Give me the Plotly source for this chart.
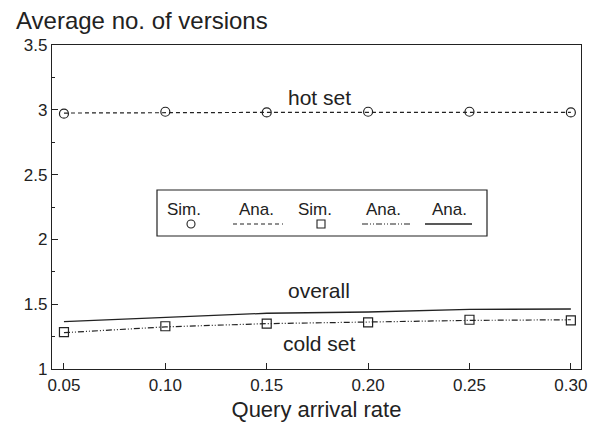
import plotly.graph_objects as go

rate = [0.05, 0.10, 0.15, 0.20, 0.25, 0.30]
hot_sim = [2.97, 2.985, 2.98, 2.985, 2.985, 2.98]
hot_ana = [2.975, 2.98, 2.98, 2.98, 2.98, 2.98]
cold_sim = [1.285, 1.33, 1.35, 1.36, 1.38, 1.375]
cold_ana = [1.28, 1.325, 1.35, 1.365, 1.375, 1.38]
overall_ana = [1.365, 1.40, 1.43, 1.44, 1.46, 1.463]

x_ticks = [0.05, 0.10, 0.15, 0.20, 0.25, 0.30]
x_ticktext = ["0.05", "0.10", "0.15", "0.20", "0.25", "0.30"]
y_ticks = [1, 1.5, 2, 2.5, 3, 3.5]
y_ticktext = ["1", "1.5", "2", "2.5", "3", "3.5"]

FONT = "Liberation Sans, Arial, sans-serif"
INK = "#222222"

fig = go.Figure()
fig.add_trace(go.Scatter(x=rate, y=hot_ana, mode="lines",
                         line=dict(color=INK, width=1.2, dash="4px,3px")))
fig.add_trace(go.Scatter(x=rate, y=hot_sim, mode="markers",
                         marker=dict(symbol="circle-open", size=9, color=INK, line=dict(width=1.2))))
fig.add_trace(go.Scatter(x=rate, y=overall_ana, mode="lines",
                         line=dict(color=INK, width=1.3)))
fig.add_trace(go.Scatter(x=rate, y=cold_ana, mode="lines",
                         line=dict(color=INK, width=1.2, dash="6px,2px,1px,2px,1px,2px")))
fig.add_trace(go.Scatter(x=rate, y=cold_sim, mode="markers",
                         marker=dict(symbol="square-open", size=9, color=INK, line=dict(width=1.2))))

# curve labels
for txt, yv in [("hot set", 3.095), ("overall", 1.605), ("cold set", 1.2)]:
    fig.add_annotation(x=0.176, y=yv, text=txt, showarrow=False, xanchor="center", yanchor="middle",
                       font=dict(family=FONT, size=21, color=INK))

# legend box (pixel positions converted to paper coords)
W0, W1, H0, H1 = 52, 581, 45, 369
def px(x):
    return (x - W0) / (W1 - W0)
def py(y):
    return (H1 - y) / (H1 - H0)

fig.add_shape(type="rect", xref="paper", yref="paper",
              x0=px(157), x1=px(487), y0=py(236), y1=py(190),
              line=dict(color=INK, width=1.2), fillcolor="white")
for cx, t in [(184, "Sim."), (256, "Ana."), (315, "Sim."), (383, "Ana."), (449, "Ana.")]:
    fig.add_annotation(xref="paper", yref="paper", x=px(cx), y=py(209), text=t,
                       xanchor="center", yanchor="middle",
                       showarrow=False, font=dict(family=FONT, size=17, color=INK))
# circle sample
fig.add_shape(type="circle", xref="paper", yref="paper", xsizemode="pixel", ysizemode="pixel",
              xanchor=px(191), yanchor=py(224), x0=-4, x1=4, y0=-4, y1=4,
              line=dict(color=INK, width=1.1))
# square sample
fig.add_shape(type="rect", xref="paper", yref="paper", xsizemode="pixel", ysizemode="pixel",
              xanchor=px(321), yanchor=py(224), x0=-4, x1=4, y0=-4, y1=4,
              line=dict(color=INK, width=1.1))
# line samples
fig.add_shape(type="line", xref="paper", yref="paper", x0=px(233), x1=px(283), y0=py(224), y1=py(224),
              line=dict(color=INK, width=1.2, dash="4px,3px"))
fig.add_shape(type="line", xref="paper", yref="paper", x0=px(362), x1=px(411), y0=py(224), y1=py(224),
              line=dict(color=INK, width=1.2, dash="6px,2px,1px,2px,1px,2px"))
fig.add_shape(type="line", xref="paper", yref="paper", x0=px(425), x1=px(472), y0=py(224), y1=py(224),
              line=dict(color=INK, width=1.3))

fig.add_annotation(xref="paper", yref="paper", x=px(14), y=py(20.5),
                   xanchor="left", yanchor="middle", text="Average no. of versions",
                   showarrow=False, font=dict(family=FONT, size=24, color=INK))

fig.update_layout(
    width=605, height=434,
    margin=dict(l=52, r=24, t=45, b=65),
    paper_bgcolor="white", plot_bgcolor="white",
    showlegend=False,
    font=dict(family=FONT, color=INK),
    xaxis=dict(range=[0.0441, 0.305], tickvals=x_ticks, ticktext=x_ticktext,
               ticks="inside", ticklen=6, tickcolor=INK, showgrid=False, zeroline=False,
               showline=True, linecolor=INK, linewidth=1.3, mirror=True,
               tickfont=dict(size=17, family=FONT, color=INK),
               title=dict(text="Query arrival rate", font=dict(size=22, family=FONT, color=INK), standoff=8)),
    yaxis=dict(range=[1, 3.5], tickvals=y_ticks, ticktext=y_ticktext,
               ticks="inside", ticklen=6, tickcolor=INK, showgrid=False, zeroline=False,
               showline=True, linecolor=INK, linewidth=1.3, mirror=True,
               minor=dict(dtick=0.25, ticks="inside", ticklen=3, tickcolor=INK),
               tickfont=dict(size=17, family=FONT, color=INK)),
)

fig.write_html("out.html")
